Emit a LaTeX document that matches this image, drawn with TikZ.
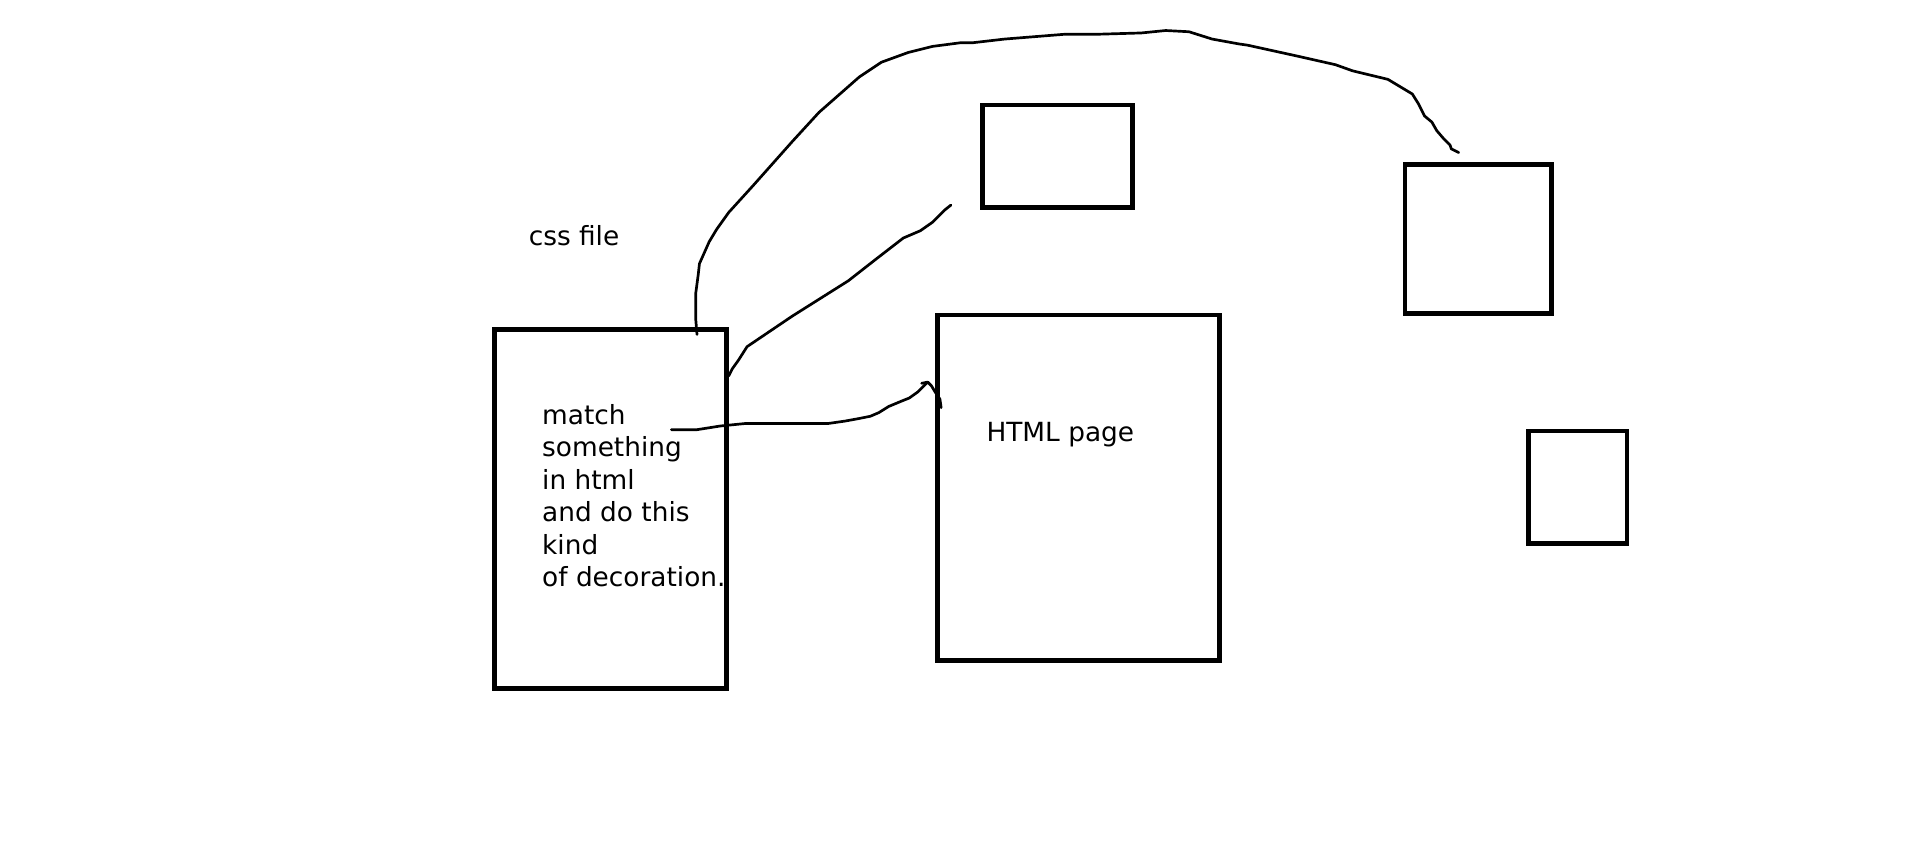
\documentclass[tikz,border=0pt]{standalone}
\usepackage{fontspec}
\setmainfont{DejaVu Sans}
\begin{document}
\begin{tikzpicture}[x=1pt,y=-1pt,
  box/.style={draw=black,line width=3.8pt,inner sep=0pt,minimum width=#1},
  lbl/.style={inner sep=0pt,font=\fontsize{21.6}{26.6}\selectfont,align=left},
  stroke/.style={draw=black,line width=2.2pt,line join=round,line cap=round}]
\useasboundingbox (0,0) rectangle (1568,694);
\fill[white] (0,0) rectangle (1568,694);
% boxes
\node[box=190pt,minimum height=294pt] (css) at (500,417) {};
\node[box=231pt,minimum height=283pt] (html) at (883.5,399.5) {};
\node[box=123pt,minimum height=84pt] (top) at (866.5,128) {};
\node[box=120pt,minimum height=122pt] (right) at (1211,196) {};
\node[box=81pt,minimum height=92pt] (small) at (1292.5,399) {};
% labels
\node[lbl,anchor=base west] (csslbl) at (433,201.5) {css file};
\node[lbl,anchor=north west] (desc) at (444,331) {match\\something\\in html\\and do this\\kind\\of decoration.};
\node[lbl,anchor=base west] (htmllbl) at (808,362) {HTML page};
% free-hand strokes
\coordinate (a1) at (571,274);
\coordinate (a2) at (1195,125);
\coordinate (b1) at (597,308);
\coordinate (b2) at (779,168);
\coordinate (c1) at (550,352);
\coordinate (c2) at (771,334);
\draw[stroke] (a1) -- (570,262) -- (570,240) -- (572,225) -- (573,216) -- (581,198) -- (587,188) -- (597,174) -- (617,152) -- (649,116) -- (671,92) -- (704,63) -- (722,51) -- (744,43) -- (764,38) -- (787,35) -- (797,35) -- (823,32) -- (873,28) -- (901,28) -- (935,27) -- (955,25) -- (974,26) -- (993,32) -- (1015,36) -- (1022,37) -- (1063,46) -- (1094,53) -- (1108,58) -- (1137,65) -- (1157,77) -- (1162,85) -- (1167,95) -- (1173,100) -- (1177,107) -- (1183,114) -- (1188,119) -- (1189,122) -- (1193,124) -- (a2);
\draw[stroke] (b1) -- (600,302) -- (605,295) -- (612,284) -- (649,259) -- (695,230) -- (718,212) -- (740,195) -- (754,189) -- (764,182) -- (774,172) -- (b2);
\draw[stroke] (c1) -- (571,352) -- (590,349) -- (610,347) -- (640,347) -- (678,347) -- (692,345) -- (703,343) -- (713,341) -- (720,338) -- (728,333) -- (740,328) -- (745,326) -- (752,321) -- (757,316) -- (760,313) -- (763,316) -- (766,321) -- (770,327) -- (c2);
\draw[stroke] (755,314) -- (760,313);
\end{tikzpicture}
\end{document}
